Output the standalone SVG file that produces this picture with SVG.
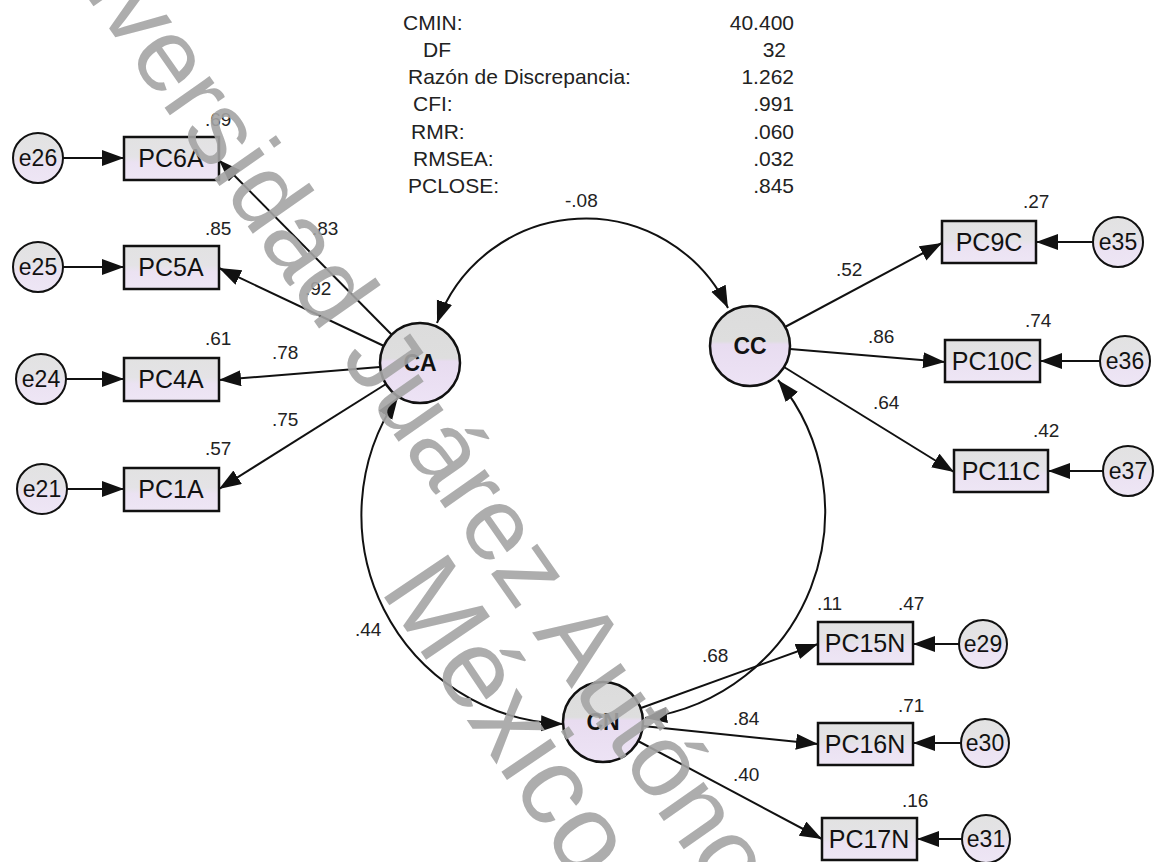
<svg xmlns="http://www.w3.org/2000/svg" width="1154" height="862" viewBox="0 0 1154 862">
<style>
.box{stroke:#111;stroke-width:2.5;fill:url(#fillg)}
.ell{stroke:#111;stroke-width:2;fill:url(#fillg)}
.lat{stroke:#111;stroke-width:2.5;fill:url(#latg)}
.lbl{font-family:"Liberation Sans",Arial,sans-serif;font-size:25px;fill:#111;text-anchor:middle}
.elbl{font-family:"Liberation Sans",Arial,sans-serif;font-size:23px;fill:#111;text-anchor:middle}
.latl{font-family:"Liberation Sans",Arial,sans-serif;font-size:23px;font-weight:bold;fill:#111;text-anchor:middle}
.num{font-family:"Liberation Sans",Arial,sans-serif;font-size:19px;fill:#222}
.st{font-family:"Liberation Sans",Arial,sans-serif;font-size:21px;fill:#222}
.stv{font-family:"Liberation Sans",Arial,sans-serif;font-size:21px;fill:#222;text-anchor:end}
.ln{stroke:#111;stroke-width:2;fill:none;marker-end:url(#ah)}
.cov{stroke:#111;stroke-width:2;fill:none;marker-start:url(#ah);marker-end:url(#ah)}
.wm{font-family:"Liberation Sans",Arial,sans-serif;fill:#a4a4a4;fill-opacity:0.9}
</style>
<defs>
<linearGradient id="fillg" x1="0" y1="0" x2="0" y2="1">
<stop offset="0" stop-color="#e2e2e2"/>
<stop offset="0.45" stop-color="#e4e3e6"/>
<stop offset="0.6" stop-color="#ebe2f2"/>
<stop offset="1" stop-color="#eee6f5"/>
</linearGradient>
<linearGradient id="latg" x1="0" y1="0" x2="0" y2="1">
<stop offset="0" stop-color="#dcdcdc"/>
<stop offset="0.44" stop-color="#dedede"/>
<stop offset="0.48" stop-color="#e8dcf0"/>
<stop offset="1" stop-color="#ede3f5"/>
</linearGradient>
<marker id="ah" markerUnits="userSpaceOnUse" markerWidth="24" markerHeight="18" refX="22" refY="8" orient="auto-start-reverse">
<path d="M0,0 L22,8 L0,16 Z" fill="#111"/>
</marker>
</defs>
<rect width="1154" height="862" fill="#ffffff"/>

<g id="stats">
<text class="st" x="403" y="30">CMIN:</text>
<text class="st" x="423" y="57">DF</text>
<text class="st" x="408" y="84">Razón de Discrepancia:</text>
<text class="st" x="413" y="111">CFI:</text>
<text class="st" x="411" y="139">RMR:</text>
<text class="st" x="413" y="166">RMSEA:</text>
<text class="st" x="408" y="193">PCLOSE:</text>
<text class="stv" x="794" y="30">40.400</text>
<text class="stv" x="786" y="57">32</text>
<text class="stv" x="794" y="84">1.262</text>
<text class="stv" x="794" y="111">.991</text>
<text class="stv" x="794" y="139">.060</text>
<text class="stv" x="794" y="166">.032</text>
<text class="stv" x="794" y="193">.845</text>
</g>

<g id="connectors">
<path class="ln" d="M63,158 L124,158"/>
<path class="ln" d="M63,267 L124,267"/>
<path class="ln" d="M66,379 L124,379"/>
<path class="ln" d="M67,489 L124,489"/>
<path class="ln" d="M392,335 L219,160"/>
<path class="ln" d="M384,346 L219,268"/>
<path class="ln" d="M380,367 L219,380"/>
<path class="ln" d="M386,384 L219,489"/>
<path class="ln" d="M785,327 L942,243"/>
<path class="ln" d="M790,349 L945,362"/>
<path class="ln" d="M784,367 L954,472"/>
<path class="ln" d="M1093,242 L1036,242"/>
<path class="ln" d="M1100,361 L1040,361"/>
<path class="ln" d="M1103,471 L1048,471"/>
<path class="ln" d="M641,708 L818,644"/>
<path class="ln" d="M643,726 L818,744"/>
<path class="ln" d="M638,741 L822,839"/>
<path class="ln" d="M959,644 L913,644"/>
<path class="ln" d="M961,743 L913,743"/>
<path class="ln" d="M962,839 L917,839"/>
<path class="cov" d="M437,323 A158,158 0 0,1 728,308"/>
<path class="cov" d="M398,397 A209,209 0 0,0 563,724"/>
<path class="cov" d="M778,380 A208,208 0 0,1 645,718"/>
</g>

<g id="e26"><circle class="ell" cx="38" cy="158" r="25"/><text class="elbl" x="38" y="166">e26</text></g>
<g id="e25"><circle class="ell" cx="38" cy="267" r="25"/><text class="elbl" x="38" y="275">e25</text></g>
<g id="e24"><circle class="ell" cx="41" cy="379" r="25"/><text class="elbl" x="41" y="387">e24</text></g>
<g id="e21"><circle class="ell" cx="42" cy="489" r="25"/><text class="elbl" x="42" y="497">e21</text></g>

<g id="PC6A"><rect class="box" x="124" y="137" width="95" height="43"/><text class="lbl" x="171" y="167">PC6A</text></g>
<g id="PC5A"><rect class="box" x="124" y="246" width="95" height="43"/><text class="lbl" x="171" y="276">PC5A</text></g>
<g id="PC4A"><rect class="box" x="124" y="358" width="95" height="43"/><text class="lbl" x="171" y="388">PC4A</text></g>
<g id="PC1A"><rect class="box" x="124" y="468" width="95" height="43"/><text class="lbl" x="171" y="498">PC1A</text></g>

<g id="CA"><circle class="lat" cx="420" cy="363" r="40"/><text class="latl" x="420" y="371">CA</text></g>
<g id="CC"><circle class="lat" cx="750" cy="346" r="40"/><text class="latl" x="750" y="354">CC</text></g>
<g id="CN"><circle class="lat" cx="603" cy="722" r="40"/><text class="latl" x="603" y="730">CN</text></g>

<g id="PC9C"><rect class="box" x="942" y="221" width="94" height="42"/><text class="lbl" x="989" y="251">PC9C</text></g>
<g id="PC10C"><rect class="box" x="945" y="340" width="95" height="42"/><text class="lbl" x="992" y="370">PC10C</text></g>
<g id="PC11C"><rect class="box" x="954" y="450" width="94" height="42"/><text class="lbl" x="1001" y="480">PC11C</text></g>
<g id="e35"><circle class="ell" cx="1118" cy="242" r="25"/><text class="elbl" x="1118" y="250">e35</text></g>
<g id="e36"><circle class="ell" cx="1125" cy="361" r="25"/><text class="elbl" x="1125" y="369">e36</text></g>
<g id="e37"><circle class="ell" cx="1128" cy="471" r="25"/><text class="elbl" x="1128" y="479">e37</text></g>

<g id="PC15N"><rect class="box" x="818" y="622" width="95" height="42"/><text class="lbl" x="865" y="652">PC15N</text></g>
<g id="PC16N"><rect class="box" x="818" y="723" width="95" height="42"/><text class="lbl" x="865" y="753">PC16N</text></g>
<g id="PC17N"><rect class="box" x="822" y="818" width="95" height="42"/><text class="lbl" x="869" y="848">PC17N</text></g>
<g id="e29"><circle class="ell" cx="983" cy="644" r="24"/><text class="elbl" x="983" y="652">e29</text></g>
<g id="e30"><circle class="ell" cx="985" cy="743" r="24"/><text class="elbl" x="985" y="751">e30</text></g>
<g id="e31"><circle class="ell" cx="986" cy="839" r="24"/><text class="elbl" x="986" y="847">e31</text></g>

<g id="labels">
<text class="num" x="205" y="126">.69</text>
<text class="num" x="205" y="235">.85</text>
<text class="num" x="312" y="235">.83</text>
<text class="num" x="305" y="295">.92</text>
<text class="num" x="205" y="345">.61</text>
<text class="num" x="272" y="359">.78</text>
<text class="num" x="272" y="426">.75</text>
<text class="num" x="205" y="455">.57</text>
<text class="num" x="565" y="207">-.08</text>
<text class="num" x="355" y="636">.44</text>
<text class="num" x="836" y="276">.52</text>
<text class="num" x="868" y="343">.86</text>
<text class="num" x="873" y="409">.64</text>
<text class="num" x="1023" y="208">.27</text>
<text class="num" x="1025" y="327">.74</text>
<text class="num" x="1033" y="437">.42</text>
<text class="num" x="702" y="662">.68</text>
<text class="num" x="733" y="725">.84</text>
<text class="num" x="733" y="781">.40</text>
<text class="num" x="817" y="610">.11</text>
<text class="num" x="898" y="610">.47</text>
<text class="num" x="898" y="712">.71</text>
<text class="num" x="902" y="807">.16</text>
</g>

<g id="watermark">
<text class="wm" font-size="104" transform="translate(8,-116) rotate(55)">Universidad Juárez Autónoma</text>
<text class="wm" font-size="112" transform="translate(379,590) rotate(56)">México</text>
</g>
</svg>
